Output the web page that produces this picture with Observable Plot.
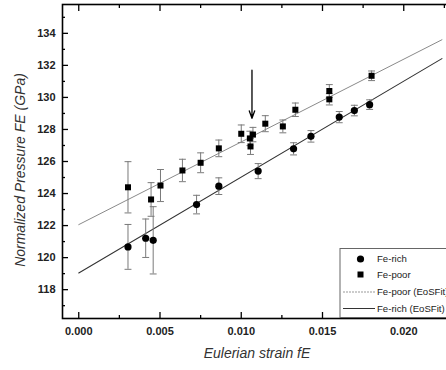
<!DOCTYPE html>
<html><head><meta charset="utf-8">
<script src="https://cdn.jsdelivr.net/npm/d3@7"></script>
<script src="https://cdn.jsdelivr.net/npm/@observablehq/plot@0.6"></script>
<style>
body{margin:0;background:#fff;}
#wrap{width:446px;height:370px;overflow:hidden;position:relative;}
#wrap svg{max-width:none !important;}
</style></head><body><div id="wrap"></div>
<script>
// Fe-rich (circles)
const richFE  = [0.00303, 0.00412, 0.00458, 0.00725, 0.00862, 0.01104, 0.01322, 0.01429, 0.01603, 0.01696, 0.0179];
const richP   = [120.67, 121.21, 121.08, 123.31, 124.46, 125.40, 126.79, 127.57, 128.77, 129.18, 129.55];
const richErr = [1.4, 1.2, 2.1, 0.58, 0.52, 0.47, 0.38, 0.36, 0.35, 0.33, 0.3];
// Fe-poor (squares)
const poorFE  = [0.00303, 0.00445, 0.00503, 0.00638, 0.0075, 0.00862, 0.0100, 0.01053, 0.01057, 0.01072, 0.01148, 0.01256, 0.01333, 0.01542, 0.01542, 0.01802];
const poorP   = [124.39, 123.63, 124.5, 125.44, 125.92, 126.82, 127.73, 127.44, 126.94, 127.68, 128.36, 128.19, 129.23, 130.40, 129.88, 131.35];
const poorErr = [1.6, 1.05, 1.0, 0.7, 0.62, 0.52, 0.55, 0.45, 0.5, 0.45, 0.5, 0.4, 0.42, 0.4, 0.35, 0.3];
// EoSFit lines (end points)
const fitFE   = [0, 0.02235];
const poorFit = [122.06, 133.6];
const richFit = [119.04, 132.42];
// arrow
const arrowFE = [0.01066];
const arrowFrom = [131.7];
const arrowTo = [128.7];
// ticks
const xMajor = [0, 0.005, 0.010, 0.015, 0.020];
const xMinor = [0.0025, 0.0075, 0.0125, 0.0175, 0.0225];
const yMajor = [118, 120, 122, 124, 126, 128, 130, 132, 134];
const yMinor = [117, 119, 121, 123, 125, 127, 129, 131, 133, 135];
const legendLabels = ["Fe-rich", "Fe-poor", "Fe-poor (EoSFit)", "Fe-rich (EoSFit)"];
const xTitle = "Eulerian strain fE";
const yTitle = "Normalized Pressure FE (GPa)";

const rich = richFE.map((x, i) => ({x, p: richP[i], e: richErr[i]}));
const poor = poorFE.map((x, i) => ({x, p: poorP[i], e: poorErr[i]}));
const fitPoor = fitFE.map((x, i) => ({x, p: poorFit[i]}));
const fitRich = fitFE.map((x, i) => ({x, p: richFit[i]}));
const arrow = arrowFE.map((x, i) => ({x, y1: arrowFrom[i], y2: arrowTo[i]}));

const capSym = {draw(ctx, size) { const w = Math.sqrt(size) / 2; ctx.moveTo(-w, 0); ctx.lineTo(w, 0); }};
const noText = () => "";
const errColor = "#7a7a7a";
const font = "Liberation Sans, Arial, sans-serif";

function errMarks(data) {
  return [
    Plot.ruleX(data, {x: "x", y1: d => d.p - d.e, y2: d => d.p + d.e, stroke: errColor, strokeWidth: 1}),
    Plot.dot(data, {x: "x", y: d => d.p - d.e, symbol: capSym, r: 3.9, stroke: errColor, strokeWidth: 1, fill: "none"}),
    Plot.dot(data, {x: "x", y: d => d.p + d.e, symbol: capSym, r: 3.9, stroke: errColor, strokeWidth: 1, fill: "none"})
  ];
}

const chart = Plot.plot({
  width: 456, height: 370,
  marginLeft: 62, marginRight: 4, marginTop: 4, marginBottom: 52,
  style: {fontFamily: font, background: "#fff", overflow: "visible", maxWidth: "none"},
  x: {domain: [-0.001, 0.023]},
  y: {domain: [116.2, 135.8]},
  marks: [
    Plot.line(fitPoor, {x: "x", y: "p", stroke: "#8a8a8a", strokeWidth: 1}),
    Plot.line(fitRich, {x: "x", y: "p", stroke: "#333", strokeWidth: 1.1}),
    ...errMarks(poor),
    ...errMarks(rich),
    Plot.dot(poor, {x: "x", y: "p", symbol: "square", r: 3.4, fill: "#000", stroke: "none"}),
    Plot.dot(rich, {x: "x", y: "p", symbol: "circle", r: 3.6, fill: "#000", stroke: "none"}),
    Plot.arrow(arrow, {x: "x", y1: "y1", y2: "y2", stroke: "#000", strokeWidth: 1.3, headLength: 9, headAngle: 40}),
    // axes: labels
    Plot.axisX({anchor: "bottom", ticks: xMajor, tickSize: 0, tickPadding: 9, tickFormat: d3.format(".3f"), fontSize: 11, fontWeight: "bold", fill: "#222", label: null}),
    Plot.axisY({anchor: "left", ticks: yMajor, tickSize: 0, tickPadding: 7, tickFormat: d3.format("d"), fontSize: 11, fontWeight: "bold", fill: "#222", label: null}),
    // inward ticks
    Plot.axisX({anchor: "bottom", ticks: xMajor, tickSize: -6, tickFormat: noText, label: null, strokeWidth: 1.3}),
    Plot.axisX({anchor: "bottom", ticks: xMinor, tickSize: -3, tickFormat: noText, label: null, strokeWidth: 1.3}),
    Plot.axisX({anchor: "top", ticks: xMajor, tickSize: -6, tickFormat: noText, label: null, strokeWidth: 1.3}),
    Plot.axisX({anchor: "top", ticks: xMinor, tickSize: -3, tickFormat: noText, label: null, strokeWidth: 1.3}),
    Plot.axisY({anchor: "left", ticks: yMajor, tickSize: -6, tickFormat: noText, label: null, strokeWidth: 1.3}),
    Plot.axisY({anchor: "left", ticks: yMinor, tickSize: -3, tickFormat: noText, label: null, strokeWidth: 1.3}),
    Plot.axisY({anchor: "right", ticks: yMajor, tickSize: -6, tickFormat: noText, label: null, strokeWidth: 1.3}),
    Plot.axisY({anchor: "right", ticks: yMinor, tickSize: -3, tickFormat: noText, label: null, strokeWidth: 1.3}),
    Plot.frame({stroke: "#000", strokeWidth: 1.6})
  ]
});

const svg = d3.select(chart);
// axis titles
svg.append("text").attr("x", 257).attr("y", 358).attr("text-anchor", "middle")
  .attr("font-family", font).attr("font-size", 14).attr("font-style", "italic").attr("fill", "#333").text(xTitle);
svg.append("text").attr("transform", "translate(25,170) rotate(-90)").attr("text-anchor", "middle")
  .attr("font-family", font).attr("font-size", 14).attr("font-style", "italic").attr("fill", "#333").text(yTitle);

// legend
const lg = svg.append("g").attr("font-family", font).attr("font-size", 9.6).attr("fill", "#222").attr("text-anchor", "start");
lg.append("rect").attr("x", 340).attr("y", 248.5).attr("width", 130).attr("height", 69)
  .attr("fill", "#fff").attr("stroke", "#666").attr("stroke-width", 1);
const rowsY = [259, 274.5, 292, 308.5];
lg.append("circle").attr("cx", 360.5).attr("cy", rowsY[0]).attr("r", 3.6).attr("fill", "#000");
lg.append("rect").attr("x", 357.5).attr("y", rowsY[1] - 3).attr("width", 6).attr("height", 6).attr("fill", "#000");
lg.append("line").attr("x1", 343).attr("x2", 375).attr("y1", rowsY[2]).attr("y2", rowsY[2])
  .attr("stroke", "#999").attr("stroke-width", 1).attr("stroke-dasharray", "2,1");
lg.append("line").attr("x1", 343).attr("x2", 375).attr("y1", rowsY[3]).attr("y2", rowsY[3])
  .attr("stroke", "#333").attr("stroke-width", 1);
legendLabels.forEach((t, i) => {
  lg.append("text").attr("x", 377).attr("y", rowsY[i]).attr("dy", "0.35em").attr("text-anchor", "start").text(t);
});

document.getElementById("wrap").appendChild(chart);
</script></body></html>
